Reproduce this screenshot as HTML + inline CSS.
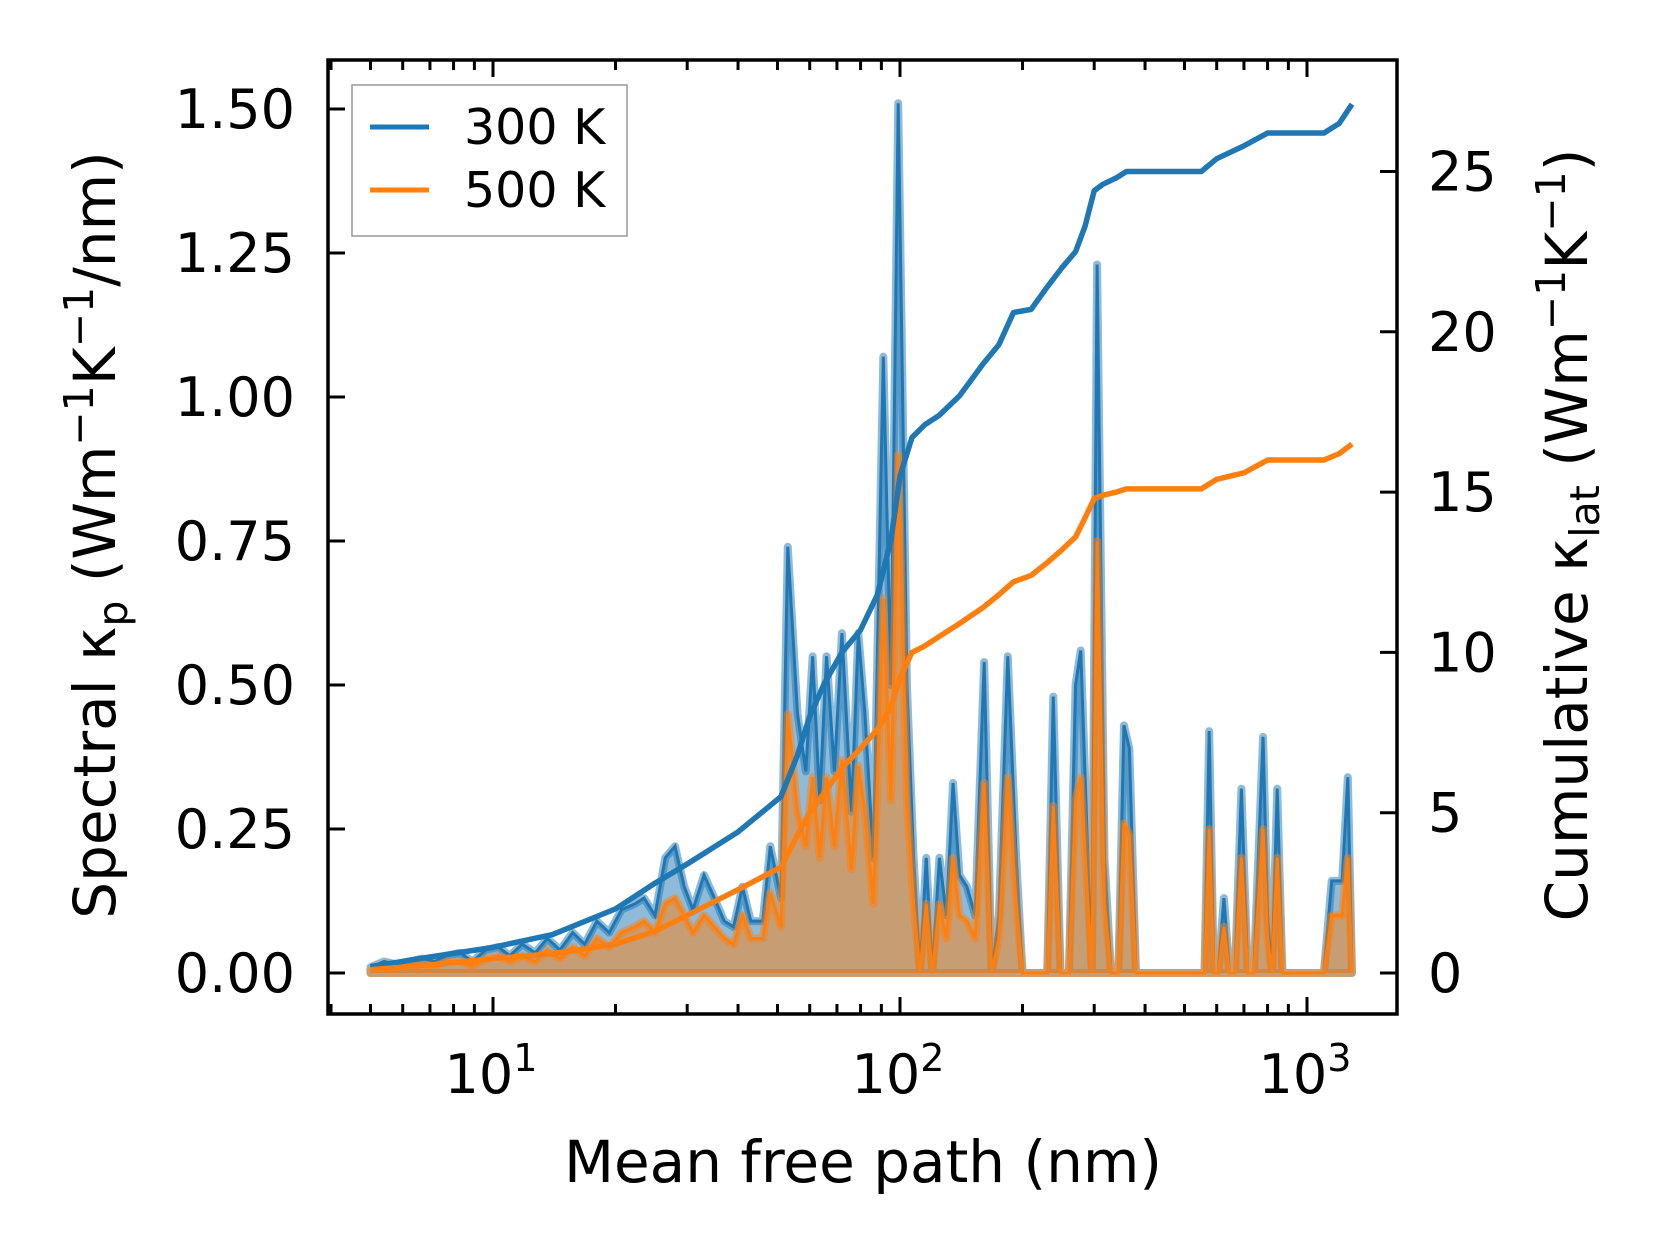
<!DOCTYPE html>
<html><head><meta charset="utf-8"><style>
body{margin:0;background:#fff}
svg{display:block;font-family:"DejaVu Sans","Liberation Sans",sans-serif}
</style></head><body>
<svg id="chart" width="1660" height="1254" viewBox="0 0 1660 1254" xmlns="http://www.w3.org/2000/svg">
<rect width="1660" height="1254" fill="#fff"/>
<g id="plot"></g>
<g id="axes"></g>
</svg>
<script>
// spectral data: mean free path (nm) and spectral kappa
const mfp = [5,5.4,5.8,6.2,6.7,7.2,7.7,8.3,8.9,9.6,10.3,11,11.8,12.7,13.6,14.6,15.7,16.8,18,19.3,20.7,22.3,23.5,25,26.5,28,29.5,31,33,35,37,39,41,43,46,48,51,53,56,58.7,61,63.5,66,69,72,76,79,82,86,91,95,99,104,108,112,116,120,125,130,135,140,146,153,161,168,175,184,193,200,208,218,230,238,248,260,270,278,296,305,318,330,344,355,366,380,400,450,500,540,560,575,590,605,625,645,665,690,715,740,780,800,820,845,870,930,1000,1100,1150,1220,1260,1290];
const spec300 = [0.01,0.02,0.015,0.02,0.025,0.02,0.03,0.035,0.02,0.04,0.045,0.03,0.05,0.035,0.06,0.04,0.07,0.05,0.09,0.07,0.11,0.12,0.13,0.1,0.2,0.22,0.15,0.11,0.17,0.13,0.09,0.08,0.15,0.09,0.09,0.22,0.13,0.74,0.45,0.35,0.55,0.3,0.55,0.35,0.59,0.28,0.59,0.45,0.2,1.07,0.5,1.51,0.5,0.2,0.0,0.2,0.0,0.2,0.1,0.33,0.17,0.15,0.1,0.54,0.0,0.1,0.55,0.2,0.0,0.0,0.0,0.0,0.48,0.0,0.0,0.5,0.56,0.0,1.23,0.2,0.0,0.0,0.43,0.39,0.0,0.0,0.0,0.0,0.0,0.0,0.42,0.0,0.0,0.13,0.0,0.0,0.32,0.0,0.0,0.41,0.1,0.0,0.32,0.0,0.0,0.0,0.0,0.16,0.16,0.34,0.0,0.0];
const spec500 = [0.005,0.01,0.01,0.012,0.015,0.012,0.02,0.02,0.012,0.025,0.03,0.02,0.03,0.02,0.04,0.025,0.045,0.03,0.06,0.045,0.07,0.08,0.09,0.07,0.12,0.13,0.1,0.07,0.1,0.08,0.06,0.05,0.1,0.06,0.06,0.14,0.08,0.45,0.28,0.22,0.34,0.2,0.34,0.22,0.37,0.18,0.36,0.28,0.12,0.65,0.3,0.9,0.3,0.12,0.0,0.12,0.0,0.12,0.06,0.2,0.1,0.09,0.06,0.33,0.0,0.06,0.34,0.12,0.0,0.0,0.0,0.0,0.29,0.0,0.0,0.3,0.34,0.0,0.75,0.12,0.0,0.0,0.26,0.24,0.0,0.0,0.0,0.0,0.0,0.0,0.25,0.0,0.0,0.08,0.0,0.0,0.2,0.0,0.0,0.25,0.06,0.0,0.2,0.0,0.0,0.0,0.0,0.1,0.1,0.2,0.0,0.0];
// cumulative data
const cumX = [5,7,10,14,20,25,30,40,51,56,60,65,72,80,88,95,100,107,115,125,140,160,175,190,210,230,250,270,285,300,315,340,360,550,600,700,800,1100,1200,1290];
const cum300 = [0.2,0.5,0.8,1.2,2.0,2.8,3.4,4.4,5.5,6.8,8.0,9.0,10.0,10.7,11.8,13.5,15.5,16.7,17.1,17.4,18.0,19.0,19.6,20.6,20.7,21.4,22.0,22.5,23.3,24.4,24.6,24.8,25.0,25.0,25.4,25.8,26.2,26.2,26.5,27.1];
const cum500 = [0.1,0.25,0.45,0.6,0.9,1.3,1.8,2.6,3.3,4.3,5.0,5.6,6.4,7.0,7.6,8.3,9.2,10.0,10.2,10.5,10.9,11.4,11.8,12.2,12.4,12.8,13.2,13.6,14.2,14.8,14.9,15.0,15.1,15.1,15.4,15.6,16.0,16.0,16.2,16.5];
const xTicks = [10,100,1000];
const xTickLabels = ["1","2","3"];
const yLeftTicks = [0,0.25,0.5,0.75,1.0,1.25,1.5];
const yLeftLabels = ["0.00","0.25","0.50","0.75","1.00","1.25","1.50"];
const yRightTicks = [0,5,10,15,20,25];
const yRightLabels = ["0","5","10","15","20","25"];

const L=328,R=1397,T=60,B=1014;
const X = v => 493 + (Math.log10(v)-1)*407;
const YL = v => 973 - v*576;
const YR = v => 973 - v*32.06;
const NS="http://www.w3.org/2000/svg";
const plot=document.getElementById('plot'), axes=document.getElementById('axes');
function mk(tag,attrs,parent){const e=document.createElementNS(NS,tag);for(const k in attrs)e.setAttribute(k,attrs[k]);parent.appendChild(e);return e;}

function fillPath(ys){let d=`M${X(mfp[0])},${YL(0)}`;mfp.forEach((m,i)=>d+=`L${X(m)},${YL(ys[i])}`);d+=`L${X(mfp[mfp.length-1])},${YL(0)}Z`;return d;}
function linePath(xs,ys,f){return xs.map((m,i)=>(i?'L':'M')+X(m)+','+f(ys[i])).join('');}

const f3=mk('path',{d:fillPath(spec300),fill:'#1f77b4','fill-opacity':0.5,stroke:'#1f77b4','stroke-opacity':0.5,'stroke-width':8,'stroke-linejoin':'round'},plot);


const l3=mk('path',{d:linePath(mfp,spec300,YL),fill:'none',stroke:'#1f77b4','stroke-width':3},plot);


const f5=mk('path',{d:fillPath(spec500),fill:'#ff7f0e','fill-opacity':0.5,stroke:'#ff7f0e','stroke-opacity':0.5,'stroke-width':8,'stroke-linejoin':'round'},plot);


const l5=mk('path',{d:linePath(mfp,spec500,YL),fill:'none',stroke:'#ff7f0e','stroke-width':3},plot);


const c3=mk('path',{d:linePath(cumX,cum300,YR),fill:'none',stroke:'#1f77b4','stroke-width':5.5,'stroke-linejoin':'round'},plot);


const c5=mk('path',{d:linePath(cumX,cum500,YR),fill:'none',stroke:'#ff7f0e','stroke-width':5.5,'stroke-linejoin':'round'},plot);



// frame
const fr=mk('rect',{x:L,y:T,width:R-L,height:B-T,fill:'none',stroke:'#000','stroke-width':3.5},axes);


for(let d=1;d<=1000;d*=10){for(let k=1;k<10;k++){const v=d*k;const x=X(v);if(x<L||x>R)continue;const len=k===1?17:10;
 mk('line',{x1:x,x2:x,y1:B,y2:B-len,stroke:'#000','stroke-width':3},axes);
 mk('line',{x1:x,x2:x,y1:T,y2:T+len,stroke:'#000','stroke-width':3},axes);}}
xTicks.forEach((v,i)=>{const t=mk('text',{x:X(v)-2,y:1093,'font-size':54,'text-anchor':'middle'},axes);t.textContent='10';
 const s=mk('tspan',{dy:-22,'font-size':38},t);s.textContent=xTickLabels[i];
 
 });
yLeftTicks.forEach((v,i)=>{mk('line',{x1:L,x2:L+17,y1:YL(v),y2:YL(v),stroke:'#000','stroke-width':3},axes);
 const t=mk('text',{x:295,y:YL(v)+19,'font-size':54,'text-anchor':'end'},axes);t.textContent=yLeftLabels[i];
 
 });
yRightTicks.forEach((v,i)=>{mk('line',{x1:R,x2:R-17,y1:YR(v),y2:YR(v),stroke:'#000','stroke-width':3},axes);
 const t=mk('text',{x:1428,y:YR(v)+19,'font-size':54,'text-anchor':'start'},axes);t.textContent=yRightLabels[i];
 
 });
</script>
<svg style="position:absolute;left:0;top:0" width="1660" height="1254" xmlns="http://www.w3.org/2000/svg" font-family="DejaVu Sans, Liberation Sans, sans-serif">
<g>
<rect x="352" y="85" width="275" height="151" fill="#fff" fill-opacity="0.8" stroke="#999" stroke-width="1.5"/>
<line x1="370" x2="429" y1="127" y2="127" stroke="#1f77b4" stroke-width="5"/>
<text x="464" y="144" font-size="49">300 K</text>
<line x1="370" x2="429" y1="190" y2="190" stroke="#ff7f0e" stroke-width="5"/>
<text x="464" y="207" font-size="49">500 K</text>
</g>
<text x="863" y="1182" font-size="58" text-anchor="middle">Mean free path (nm)</text>
<text transform="translate(115,535) rotate(-90)" font-size="58" text-anchor="middle">Spectral κ<tspan font-size="41" dy="12">p</tspan><tspan dy="-12"> (Wm</tspan><tspan font-size="41" dy="-22">−1</tspan><tspan dy="22">K</tspan><tspan font-size="41" dy="-22">−1</tspan><tspan dy="22">/nm)</tspan></text>
<text transform="translate(1587,535) rotate(-90)" font-size="58" text-anchor="middle">Cumulative κ<tspan font-size="41" dy="12">lat</tspan><tspan dy="-12"> (Wm</tspan><tspan font-size="41" dy="-22">−1</tspan><tspan dy="22">K</tspan><tspan font-size="41" dy="-22">−1</tspan><tspan dy="22">)</tspan></text>
</svg>
</body></html>
